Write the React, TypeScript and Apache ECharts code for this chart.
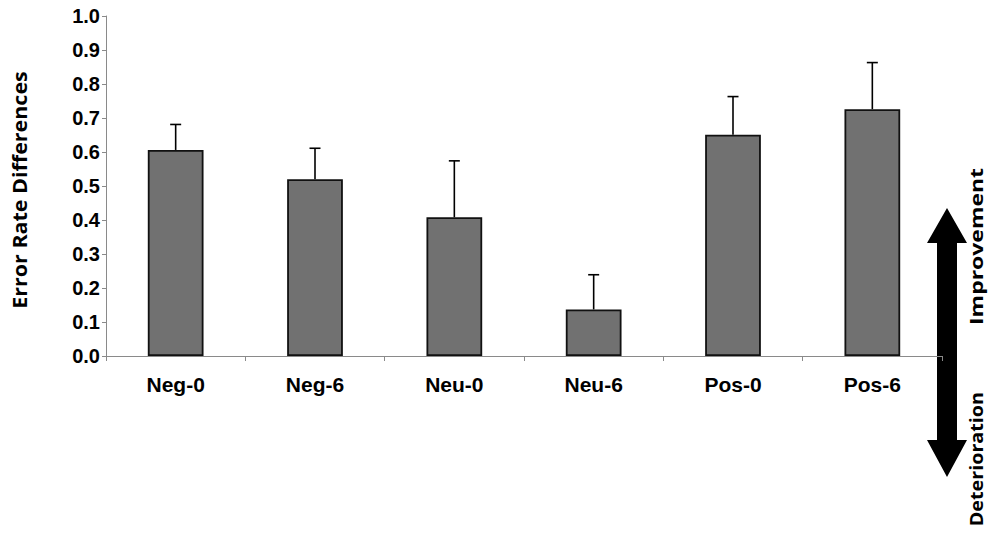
import React, { useEffect, useRef } from "react";
import * as echarts from "echarts";

// Conditions on the x axis
const categories = ["Neg-0", "Neg-6", "Neu-0", "Neu-6", "Pos-0", "Pos-6"];
// Mean error-rate differences per condition
const means = [0.606, 0.52, 0.408, 0.137, 0.651, 0.726];
// Upper error (standard error) per condition
const errors = [0.075, 0.091, 0.166, 0.102, 0.112, 0.137];

const yTitle = "Error Rate Differences";
const upLabel = "Improvement";
const downLabel = "Deterioration";

const LABEL_FONT = "Liberation Sans";
const SIDE_FONT = "Open Sans";

export default function App() {
  const ref = useRef<HTMLDivElement>(null);

  useEffect(() => {
    if (!ref.current) return;
    const chart = echarts.init(ref.current, null, { renderer: "svg" });

    // Double-headed arrow beside the plot
    const arrowX = 947;
    const arrowPoints = [
      [arrowX, 208],
      [arrowX + 20, 243],
      [arrowX + 10, 243],
      [arrowX + 10, 440],
      [arrowX + 20, 440],
      [arrowX, 477],
      [arrowX - 20, 440],
      [arrowX - 10, 440],
      [arrowX - 10, 243],
      [arrowX - 20, 243],
    ];

    chart.setOption({
      animation: false,
      backgroundColor: "#ffffff",
      grid: { left: 106, right: 46, top: 16, bottom: 182, containLabel: false },
      xAxis: {
        type: "category",
        data: categories,
        boundaryGap: true,
        axisLine: { show: true, lineStyle: { color: "#8a8a8a", width: 1 } },
        axisTick: { show: true, length: 5, alignWithLabel: false, lineStyle: { color: "#8a8a8a" } },
        axisLabel: {
          color: "#000",
          fontFamily: LABEL_FONT,
          fontWeight: "bold",
          fontSize: 21,
          margin: 18,
        },
        splitLine: { show: false },
      },
      yAxis: {
        type: "value",
        min: 0,
        max: 1,
        interval: 0.1,
        axisLine: { show: true, lineStyle: { color: "#8a8a8a", width: 1 } },
        axisTick: { show: true, length: 4, lineStyle: { color: "#8a8a8a" } },
        axisLabel: {
          color: "#000",
          fontFamily: LABEL_FONT,
          fontWeight: "bold",
          fontSize: 20,
          margin: 6,
          formatter: (v: number) => v.toFixed(1),
        },
        splitLine: { show: false },
      },
      series: [
        {
          type: "bar",
          data: means,
          barWidth: "40%",
          itemStyle: { color: "#717171", borderColor: "#111", borderWidth: 1.8 },
          z: 2,
        },
        {
          type: "custom",
          data: categories.map((_, i) => [i, means[i], errors[i]]),
          encode: { x: 0, y: 1 },
          z: 3,
          renderItem: (params: any, api: any) => {
            const i = api.value(0);
            const m = api.value(1);
            const e = api.value(2);
            const base = api.coord([i, m]);
            const top = api.coord([i, m + e]);
            const style = { stroke: "#000", lineWidth: 1.6 };
            return {
              type: "group",
              children: [
                { type: "line", shape: { x1: base[0], y1: base[1], x2: top[0], y2: top[1] }, style },
                { type: "line", shape: { x1: top[0] - 5.5, y1: top[1], x2: top[0] + 5.5, y2: top[1] }, style },
              ],
            };
          },
        },
      ],
      graphic: [
        {
          type: "text",
          x: 20,
          y: 190,
          rotation: Math.PI / 2,
          scaleX: 1.13,
          style: {
            text: yTitle,
            fontFamily: SIDE_FONT,
            fontWeight: "bold",
            fontSize: 19,
            fill: "#000",
            align: "center",
            verticalAlign: "middle",
          },
        },
        {
          type: "polygon",
          shape: { points: arrowPoints },
          style: { fill: "#000" },
        },
        {
          type: "text",
          x: 976,
          y: 168,
          rotation: Math.PI / 2,
          scaleX: 1.35,
          style: {
            text: upLabel,
            fontFamily: SIDE_FONT,
            fontWeight: "bold",
            fontSize: 17,
            fill: "#000",
            align: "right",
            verticalAlign: "middle",
          },
        },
        {
          type: "text",
          x: 976,
          y: 392,
          rotation: Math.PI / 2,
          scaleX: 1.16,
          style: {
            text: downLabel,
            fontFamily: SIDE_FONT,
            fontWeight: "bold",
            fontSize: 17,
            fill: "#000",
            align: "right",
            verticalAlign: "middle",
          },
        },
      ],
    });

    return () => chart.dispose();
  }, []);

  return (
    <div
      ref={ref}
      style={{ position: "fixed", left: 0, top: 0, width: 988, height: 538 }}
    />
  );
}
